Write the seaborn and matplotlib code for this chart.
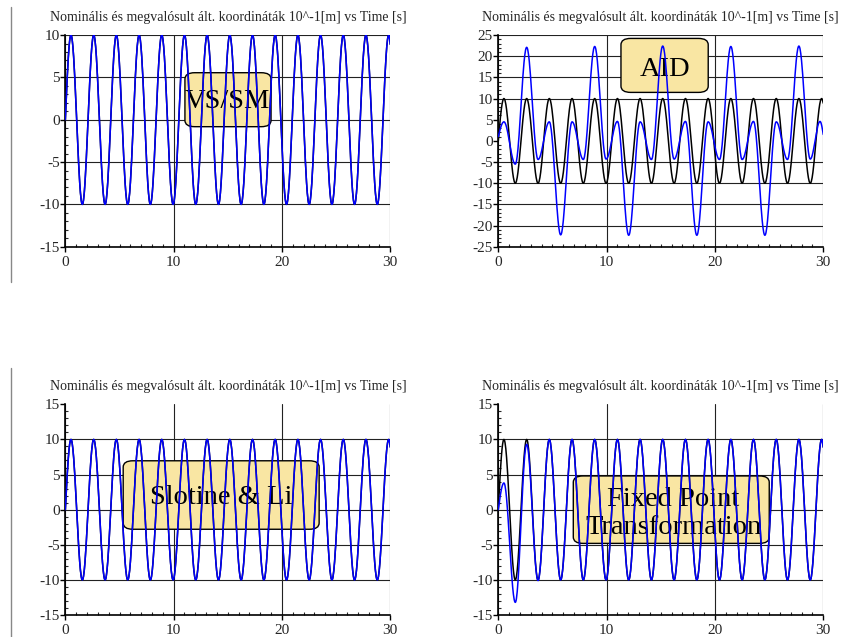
import numpy as np
import pandas as pd
import matplotlib
matplotlib.use('Agg')
import matplotlib.pyplot as plt
from matplotlib.lines import Line2D
from matplotlib.patches import FancyBboxPatch
from matplotlib.ticker import MultipleLocator
import seaborn as sns

# Times [s] of the extrema of the generalized coordinate
peak_times = [0.52, 1.57, 2.62, 3.67, 4.71, 5.76, 6.81, 7.85, 8.90, 9.95,
              11.00, 12.04, 13.09, 14.14, 15.18, 16.23, 17.28, 18.33, 19.37, 20.42,
              21.47, 22.51, 23.56, 24.61, 25.66, 26.70, 27.75, 28.80, 29.85]

# Nominal trajectory, value at each extremum  [10^-1 m]
nominal_q = [10, -10, 10, -10, 10, -10, 10, -10, 10, -10,
             10, -10, 10, -10, 10, -10, 10, -10, 10, -10,
             10, -10, 10, -10, 10, -10, 10, -10, 10]
nominal_ends = [0.0, 8.9]          # q(0), q(30)

# Realized trajectories
vssm_q = nominal_q
slotine_q = nominal_q
aid_q = [4.5, -5.5, 22.1, -4.4, 4.5, -22.2, 4.5, -4.4, 22.3, -4.3,
         4.6, -22.3, 4.5, -4.4, 22.4, -4.3, 4.6, -22.3, 4.5, -4.4,
         22.3, -4.4, 4.6, -22.3, 4.5, -4.4, 22.4, -4.3, 4.6]
aid_times = peak_times[:-1] + [29.7]
aid_ends = [1.0, 1.5]
fpt_q = [3.8, -13.2, 9.3, -10.1, 10, -10, 10, -10, 10, -10,
         10, -10, 10, -10, 10, -10, 10, -10, 10, -10,
         10, -10, 10, -10, 10, -10, 10, -10, 10]
fpt_ends = [0.0, 8.9]

title = "Nominális és megvalósult ált. koordináták 10^-1[m] vs Time [s]"
labels = ["VS/SM", "AID", "Slotine & Li", "Fixed Point\nTransformation"]


def smooth(times, values, ends, n=30):
    # smooth curve through the extrema (sine-like arcs between them)
    kt = [0.0] + list(times) + [30.0]
    kv = [ends[0]] + list(values) + [ends[1]]
    ts, qs = [], []
    last = len(kt) - 2
    for i in range(len(kt) - 1):
        s = np.linspace(0, 1, n, endpoint=False)
        if i == 0:
            w = np.sin(np.pi / 2 * s)
        elif i == last:
            w = 1 - np.cos(np.pi / 2 * s)
        else:
            w = (1 - np.cos(np.pi * s)) / 2
        ts.append(kt[i] + (kt[i + 1] - kt[i]) * s)
        qs.append(kv[i] + (kv[i + 1] - kv[i]) * w)
    ts.append([30.0])
    qs.append([kv[-1]])
    return np.concatenate(ts), np.concatenate(qs)


def make_df(real_t, real_q, real_ends):
    t0, q0 = smooth(peak_times, nominal_q, nominal_ends)
    t1, q1 = smooth(real_t, real_q, real_ends)
    return pd.concat([
        pd.DataFrame({'t': t0, 'q': q0, 'series': 'nominal'}),
        pd.DataFrame({'t': t1, 'q': q1, 'series': 'realized'}),
    ], ignore_index=True)


sns.set_style('ticks')
plt.rcParams['font.family'] = ['Liberation Serif', 'DejaVu Serif']
plt.rcParams['axes.unicode_minus'] = False

panels = [
    dict(df=make_df(peak_times, vssm_q, nominal_ends), ylim=(-15, 10), ystep=5,
         rect=[0.0777, 0.6127, 0.3864, 0.3323],
         box=(0.368, 0.567, 0.265, 0.255), txt=(0.50, 0.685)),
    dict(df=make_df(aid_times, aid_q, aid_ends), ylim=(-25, 25), ystep=5,
         rect=[0.5925, 0.6127, 0.3864, 0.3323],
         box=(0.3775, 0.729, 0.2685, 0.255), txt=(0.512, 0.835)),
    dict(df=make_df(peak_times, slotine_q, nominal_ends), ylim=(-15, 15), ystep=5,
         rect=[0.0777, 0.0345, 0.3864, 0.3308],
         box=(0.178, 0.407, 0.603, 0.325), txt=(0.48, 0.56)),
    dict(df=make_df(peak_times, fpt_q, fpt_ends), ylim=(-15, 15), ystep=5,
         rect=[0.5925, 0.0345, 0.3864, 0.3308],
         box=(0.2308, 0.340, 0.603, 0.320), txt=(0.538, 0.48)),
]

fig = plt.figure(figsize=(8.41, 6.37), dpi=100)

for p, label in zip(panels, labels):
    ax = fig.add_axes(p['rect'])
    sns.lineplot(data=p['df'], x='t', y='q', hue='series',
                 palette={'nominal': 'black', 'realized': '#0000ff'},
                 sort=False, estimator=None, legend=False, lw=1.1, ax=ax, zorder=3)
    ax.set_xlim(0, 30)
    ax.set_ylim(*p['ylim'])
    ax.set_xticks([0, 10, 20, 30])
    ax.set_yticks(np.arange(p['ylim'][0], p['ylim'][1] + 1, p['ystep']))
    ax.xaxis.set_minor_locator(MultipleLocator(1))
    ax.yaxis.set_minor_locator(MultipleLocator(1))
    ax.set_xlabel('')
    ax.set_ylabel('')
    ax.set_title(title, fontsize=10, pad=10)

    ax.grid(True, which='major', color='#222222', lw=0.8)
    ax.set_axisbelow(True)
    for tk in ax.xaxis.get_major_ticks():
        if tk.get_loc() >= 30:
            tk.gridline.set_visible(False)
    for tk in ax.yaxis.get_major_ticks():
        if tk.get_loc() > 10:
            tk.gridline.set_visible(False)

    for side in ['top', 'right']:
        ax.spines[side].set_visible(False)
    for side in ['left', 'bottom']:
        ax.spines[side].set_linewidth(1.2)
        ax.spines[side].set_color('black')
    ax.tick_params(axis='both', which='major', direction='out', length=3.5,
                   width=1, labelsize=11, color='black')
    ax.tick_params(axis='y', which='major', pad=0.5)
    ax.tick_params(axis='x', which='major', pad=3)
    ax.tick_params(axis='both', which='minor', direction='in', length=2.5, width=0.8)

    bx, by, bw, bh = p['box']
    ax.add_patch(FancyBboxPatch((bx, by), bw, bh, transform=ax.transAxes,
                                boxstyle='round,pad=0,rounding_size=0.03',
                                facecolor='#f9e6a3', edgecolor='black', lw=1.0,
                                zorder=1.5))
    ax.text(p['txt'][0], p['txt'][1], label, transform=ax.transAxes,
            ha='center', va='center', fontsize=20.5, linespacing=1.15,
            zorder=1.6, color='black')

# page margin lines on the left
fig.add_artist(Line2D([11 / 841, 11 / 841], [1 - 7 / 637, 1 - 282 / 637],
                      color='#888888', lw=1))
fig.add_artist(Line2D([11 / 841, 11 / 841], [1 - 368 / 637, 0],
                      color='#888888', lw=1))

fig.savefig('out.png', dpi=100)
